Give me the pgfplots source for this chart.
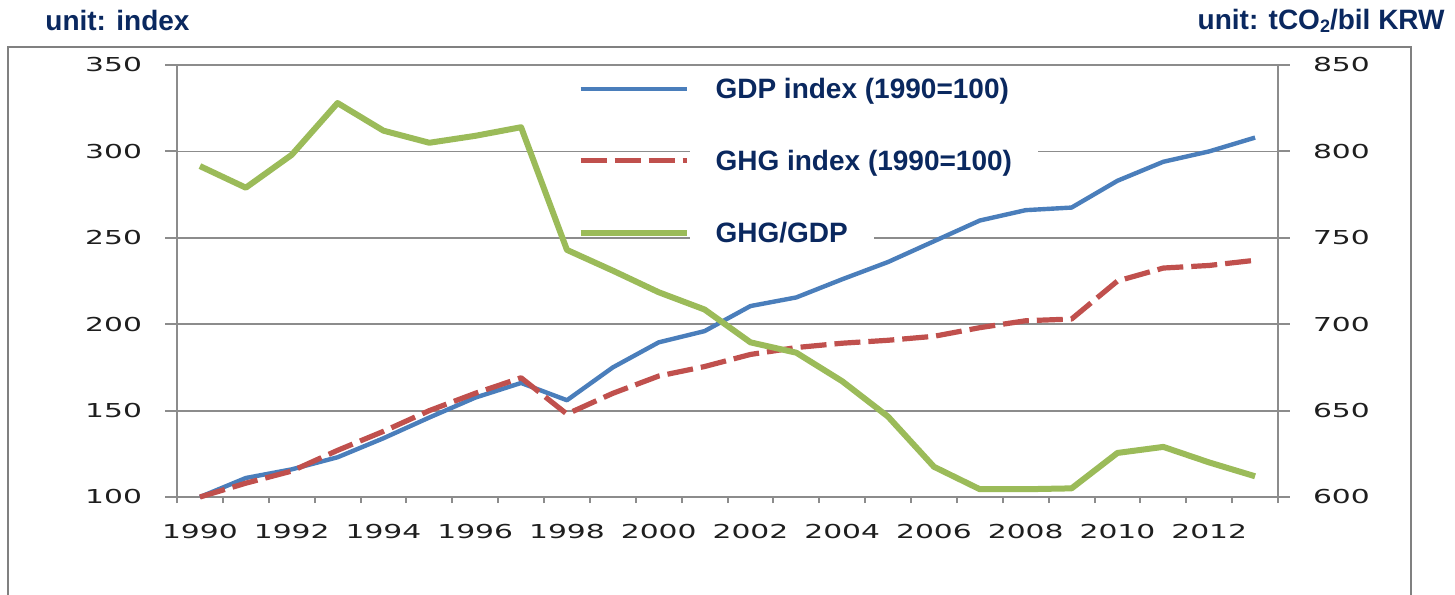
\documentclass[border=0pt]{standalone}
\usepackage{pgfplots}
\pgfplotsset{compat=1.18}
\usepackage{fontspec}
\setmainfont{Liberation Sans}
\newfontfamily\tickfont[FakeStretch=1.55]{DejaVu Sans}
\definecolor{navy}{RGB}{10,40,95}
\definecolor{axgray}{RGB}{140,140,140}
\definecolor{framegray}{RGB}{128,128,128}
\definecolor{tickc}{RGB}{30,30,30}
\definecolor{gdpblue}{RGB}{74,126,187}
\definecolor{ghgred}{RGB}{192,80,77}
\definecolor{intgreen}{RGB}{155,187,89}
\newcommand\legendbox[1]{{\setlength{\fboxsep}{0pt}\colorbox{white}{\rule[-6pt]{0pt}{22pt}\hspace{13pt}#1\hspace{13pt}}}}
\begin{document}
\begin{tikzpicture}
\draw[color=framegray, line width=1pt] (4pt,-23.5pt) rectangle (705.5pt,-310pt);
\node[anchor=base west, inner sep=0pt, text=navy, font=\bfseries\fontsize{14}{16}\selectfont] at (22.5pt,-15.5pt) {unit: index};
\node[anchor=base east, inner sep=0pt, text=navy, font=\bfseries\fontsize{14}{16}\selectfont] at (722.5pt,-14.5pt) {unit: tCO\raisebox{-0.25ex}{\fontsize{9}{9}\selectfont 2}/bil KRW};
\begin{axis}[
  scale only axis, width=550.5pt, height=216pt,
  at={(88.5pt,-32.5pt)}, anchor=north west,
  xmin=1989.5, xmax=2013.5, ymin=100, ymax=350,
  axis x line*=bottom, axis y line*=left,
  axis line style={draw=axgray, line width=1pt},
  ytick={100,150,200,250,300,350},
  xtick={1990,1992,1994,1996,1998,2000,2002,2004,2006,2008,2010,2012},
  xticklabels={1990,1992,1994,1996,1998,2000,2002,2004,2006,2008,2010,2012},
  minor xtick={1989.5,1990.5,1991.5,1992.5,1993.5,1994.5,1995.5,1996.5,1997.5,1998.5,1999.5,2000.5,2001.5,2002.5,2003.5,2004.5,2005.5,2006.5,2007.5,2008.5,2009.5,2010.5,2011.5,2012.5,2013.5},
  tick align=outside,
  major tick length=6pt, minor tick length=3pt,
  tick style={draw=axgray, line width=1pt},
  major x tick style={draw=none},
  ymajorgrids,
  major grid style={draw=axgray, line width=0.9pt},
  /pgf/number format/assume math mode=true,
  yticklabel style={font=\tickfont\fontsize{9.6}{11}\selectfont, text=tickc},
  xticklabel style={font=\tickfont\fontsize{9.6}{11}\selectfont, text=tickc},
  yticklabel shift=8pt,
  xticklabel shift=4pt,
  clip=false,
  legend cell align=left,
  legend image code/.code={\draw[#1] (0pt,-2.5pt) -- (53pt,-2.5pt);},
  legend style={at={(0.358,0.79)}, anchor=west, draw=none, fill=none,
    row sep=18.5pt, column sep=0pt, nodes={inner sep=0pt},
    font=\bfseries\fontsize{14}{16}\selectfont, text=navy},
]
\addplot[gdpblue, line width=2.2pt, line join=round] coordinates {
(1990,100) (1991,111) (1992,116) (1993,123) (1994,134) (1995,146) (1996,157.5) (1997,166)
(1998,156) (1999,175) (2000,189.5) (2001,196) (2002,210.5) (2003,215.5) (2004,226) (2005,236)
(2006,248) (2007,260) (2008,266) (2009,267.5) (2010,283) (2011,294) (2012,300) (2013,308)};
\addlegendentry{\legendbox{GDP index (1990=100)}}
\addplot[ghgred, line width=2.6pt, dash pattern=on 13pt off 4pt, line join=round] coordinates {
(1990,100) (1991,108) (1992,115) (1993,127) (1994,138) (1995,150) (1996,160) (1997,169)
(1998,148) (1999,160) (2000,170) (2001,175.5) (2002,182.5) (2003,186.5) (2004,189) (2005,190.7)
(2006,193) (2007,198) (2008,202) (2009,203) (2010,225) (2011,232.5) (2012,234) (2013,237)};
\addlegendentry{\legendbox{GHG index (1990=100)}}
\addlegendimage{intgreen, line width=3pt}
\addlegendentry{\legendbox{GHG/GDP}}
\end{axis}
\begin{axis}[
  scale only axis, width=550.5pt, height=216pt,
  at={(88.5pt,-32.5pt)}, anchor=north west,
  xmin=1989.5, xmax=2013.5, ymin=600, ymax=850,
  axis x line=none, axis y line*=right,
  axis line style={draw=axgray, line width=1pt},
  ytick={600,650,700,750,800,850},
  tick align=outside,
  major tick length=6pt,
  tick style={draw=axgray, line width=1pt},
  /pgf/number format/assume math mode=true,
  yticklabel style={font=\tickfont\fontsize{9.6}{11}\selectfont, text=tickc},
  yticklabel shift=8pt,
  clip=false,
]
\addplot[intgreen, line width=3pt, line join=round] coordinates {
(1990,791.5) (1991,779) (1992,798) (1993,828) (1994,812) (1995,805) (1996,809) (1997,814)
(1998,743) (1999,731) (2000,718.5) (2001,708.5) (2002,689.5) (2003,683.5) (2004,667) (2005,646.5)
(2006,617.5) (2007,604.5) (2008,604.5) (2009,605) (2010,625.5) (2011,629) (2012,620) (2013,612)};
\end{axis}
\pgfresetboundingbox
\path[use as bounding box] (0,0) rectangle (727.5pt,-297pt);
\end{tikzpicture}
\end{document}
